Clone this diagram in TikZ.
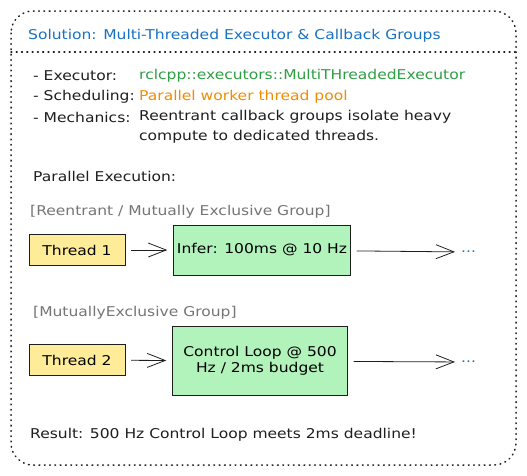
\documentclass[tikz,border=0pt]{standalone}
\usepackage{fontspec}
\setmainfont[FakeStretch=1.15]{DejaVu Sans}
\usetikzlibrary{arrows.meta, positioning}
\definecolor{titleblue}{HTML}{1971C2}
\definecolor{okgreen}{HTML}{2F9E44}
\definecolor{warnorange}{HTML}{F08C00}
\definecolor{groupgray}{HTML}{757575}
\definecolor{threadfill}{HTML}{FFEC99}
\definecolor{taskfill}{HTML}{B2F2BB}
\definecolor{inkdark}{HTML}{1E1E1E}

\begin{document}
\begin{tikzpicture}[
    x=1pt, y=-1pt,
    font=\fontsize{13.5}{16}\selectfont,
    frame/.style={draw=inkdark, line width=1.5pt, line cap=round, dash pattern=on 0.8pt off 4.5pt},
    txt/.style={anchor=west, inner sep=0pt, text=inkdark},
    thread/.style={rectangle, draw=inkdark, fill=threadfill, minimum width=96pt, minimum height=31pt, align=center},
    task/.style={rectangle, draw=inkdark, fill=taskfill, minimum width=177pt, minimum height=50pt, align=center},
    arrow/.style={-{Straight Barb[length=18pt, width=14pt]}, draw=inkdark, line width=0.8pt, shorten <=6pt, shorten >=6pt},
    more/.style={anchor=west, inner sep=0pt, text=titleblue}
]
\useasboundingbox (0,0) rectangle (527,475);
% frame
\draw[frame, rounded corners=22pt] (11,11) rectangle (516,465);
\draw[frame] (11,52) -- (516,52);
\node[txt, text=titleblue] (title) at (28,36) {Solution: Multi-Threaded Executor \& Callback Groups};

% summary
\node[txt] (execkey) at (33,76) {- Executor:};
\node[txt, text=okgreen] (execval) at (139,76) {rclcpp::executors::MultiTHreadedExecutor};
\node[txt] (schedkey) at (33,97) {- Scheduling:};
\node[txt, text=warnorange] (schedval) at (139,97) {Parallel worker thread pool};
\node[txt] (mechkey) at (33,117) {- Mechanics:};
\node[txt] (mechval) at (139,117) {Reentrant callback groups isolate heavy};
\node[txt] (mechval2) at (139,137) {compute to dedicated threads.};
\node[txt] (parallel) at (33,176) {Parallel Execution:};

% group 1
\node[txt, text=groupgray] (group1) at (30,212) {[Reentrant / Mutually Exclusive Group]};
\node[thread] (thread1) at (77,250) {Thread 1};
\node[task] (infer) at (262,250) {Infer: 100ms @ 10 Hz};
\node[more] (more1) at (461,252) {...};
\draw[arrow] (thread1) -- (infer);
\draw[arrow] (infer) -- (more1);

% group 2
\node[txt, text=groupgray] (group2) at (33,313) {[MutuallyExclusive Group]};
\node[thread] (thread2) at (77,360) {Thread 2};
\node[task, minimum width=175pt, minimum height=69pt] (control) at (260,361) {Control Loop @ 500\\Hz / 2ms budget};
\node[more] (more2) at (461,362) {...};
\draw[arrow] (thread2) -- (control);
\draw[arrow] (control) -- (more2);

\node[txt] (result) at (30,435) {Result: 500 Hz Control Loop meets 2ms deadline!};
\end{tikzpicture}
\end{document}
